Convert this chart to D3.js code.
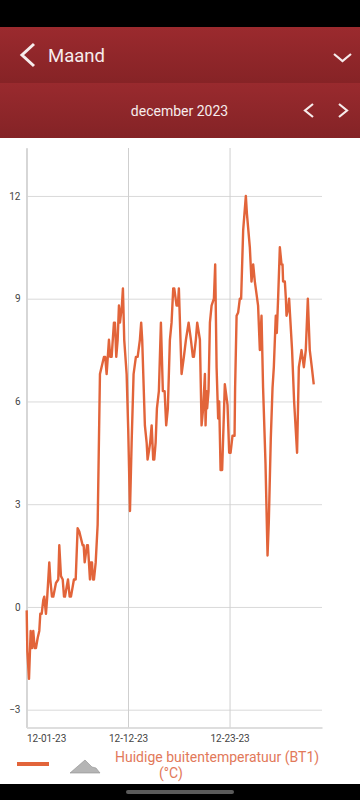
<!DOCTYPE html>
<html>
<head>
<meta charset="utf-8">
<script src="https://cdn.jsdelivr.net/npm/d3@7"></script>
<style>
  html, body { margin: 0; padding: 0; background: #fff; }
  svg { display: block; font-family: Roboto, sans-serif; }
</style>
</head>
<body>
<svg id="mainsvg" width="360" height="800"></svg>
<script>
// days since 12-01-23
const days = [
  0.02,0.09,0.27,0.45,0.59,0.73,0.88,1.02,1.21,1.38,1.49,1.64,1.81,1.92,2.10,2.24,2.46,2.57,2.75,2.89,
  3.18,3.43,3.54,3.72,3.91,4.05,4.15,4.48,4.66,4.80,5.12,5.31,5.52,5.70,6.06,6.17,6.28,6.53,6.63,6.85,
  6.96,7.07,7.17,7.28,7.47,7.68,7.93,8.36,8.50,8.65,8.90,9.04,9.19,9.44,9.55,9.69,9.84,9.98,10.09,10.30,
  10.41,10.55,10.81,10.98,11.17,11.35,11.56,11.81,12.00,12.24,12.38,12.49,12.78,12.97,13.07,13.25,13.35,13.51,13.68,13.79,
  13.94,14.08,14.29,14.51,14.72,14.91,15.08,15.26,15.48,15.66,15.84,15.95,16.20,16.34,16.45,16.74,16.99,17.21,17.50,17.75,
  17.96,18.07,18.28,18.43,18.72,18.90,19.07,19.26,19.33,19.44,19.50,19.65,19.80,19.98,20.23,20.37,20.52,20.69,20.80,20.95,
  21.12,21.41,21.70,21.88,22.03,22.24,22.46,22.52,22.68,22.85,23.03,23.17,23.39,23.68,23.79,24.11,24.29,24.47,24.65,25.00,
  25.19,25.37,25.54,25.80,26.02,26.16,26.37,26.56,26.70,26.91,27.02,27.16,27.35,27.53,27.64,27.70,27.89,28.00,28.07,28.24,
  28.35,28.67,28.89,29.21,29.40,29.69,29.94,30.15,30.37,30.58,30.80,31.01
];
const temps = [
  -0.1,-1.3,-2.1,-0.7,-1.2,-0.7,-1.2,-1.2,-0.9,-0.7,-0.2,-0.2,0.2,0.3,-0.2,0.3,1.3,0.8,0.3,0.3,
  0.7,0.8,1.8,0.9,0.8,0.3,0.3,0.8,0.3,0.3,0.8,0.8,2.3,2.2,1.8,1.8,1.3,1.8,1.8,0.8,
  1.3,1.3,0.8,0.8,1.3,2.4,6.8,7.3,7.3,6.8,7.8,7.3,7.3,8.3,8.3,7.3,7.8,8.8,8.3,8.8,
  9.3,7.8,6.8,5.2,2.8,4.8,6.8,7.3,7.3,7.8,8.3,7.8,5.3,4.8,4.3,4.6,4.8,5.3,4.3,4.3,
  4.8,5.8,6.3,8.3,6.3,6.3,5.3,5.8,7.8,8.3,9.3,9.3,8.8,8.8,9.3,6.8,7.3,7.8,8.3,7.8,
  7.3,7.3,7.8,8.3,7.8,5.3,5.8,6.8,5.3,6.3,5.8,6.3,8.3,8.8,9.0,10,7,5.5,6,4,
  4,6.5,5.9,4.5,4.5,5,5,6.4,8.5,8.6,9,9,11,12,11.5,10.5,9.5,10,9.5,8.8,
  7.5,8.5,6.4,4.2,1.5,2.5,4.9,6.4,7,8.5,8,9,10.5,10,10,9.5,9.5,9,8.5,8.7,
  9,7.5,6,4.5,7,7.5,7,7.5,9,7.5,7,6.5
];
const yTicks = [-3, 0, 3, 6, 9, 12];
const xTickDays = [0, 10.96, 21.92];
const xTickLabels = ["12-01-23", "12-12-23", "12-23-23"];

const svg = d3.select('#mainsvg');
const width = +svg.attr('width');
const height = +svg.attr('height');
const lineColor = "#e2643a";

// app chrome
const defs = svg.append('defs');
const grad = (id, a, b) => {
  const g = defs.append('linearGradient').attr('id', id).attr('x1', 0).attr('x2', 0).attr('y1', 0).attr('y2', 1);
  g.append('stop').attr('offset', 0).attr('stop-color', a);
  g.append('stop').attr('offset', 1).attr('stop-color', b);
};
grad('head1', '#9b2a2e', '#862326');
grad('head2', '#992a2e', '#842326');

svg.append('rect').attr('width', width).attr('height', 27).attr('fill', '#000');
svg.append('rect').attr('y', 27).attr('width', width).attr('height', 56).attr('fill', 'url(#head1)');
svg.append('rect').attr('y', 83).attr('width', width).attr('height', 55).attr('fill', 'url(#head2)');
svg.append('rect').attr('y', 784).attr('width', width).attr('height', 16).attr('fill', '#000');
svg.append('rect').attr('x', 126).attr('y', 790).attr('width', 108).attr('height', 4).attr('rx', 2).attr('fill', '#5a5a5a');

const chevron = (d, w) => svg.append('path').attr('d', d).attr('fill', 'none')
  .attr('stroke', '#f6ecec').attr('stroke-width', w);
chevron('M34,44L22,55L34,66', 3);
chevron('M334,54L342.500,61L351,54', 2.2);
chevron('M313,104L305,110.500L313,117', 2.2);
chevron('M339,104L347,110.500L339,117', 2.2);

svg.append('text').attr('x', 48).attr('y', 61.500).attr('fill', '#f6ecec')
  .attr('font-size', 18.500).text('Maand');
svg.append('text').attr('x', 179.500).attr('y', 116).attr('fill', '#f6ecec')
  .attr('text-anchor', 'middle').attr('font-size', 14).text('december 2023');

// chart
const x = d3.scaleLinear().domain([0, 31.9]).range([26.5, 322]);
const y = d3.scaleLinear().domain([-3.52, 13.4]).range([727.5, 148]);

const yAxis = d3.axisLeft(y).tickValues(yTicks).tickSize(-(x.range()[1] - x.range()[0]))
  .tickSizeOuter(0).tickPadding(6);
const xAxis = d3.axisBottom(x).tickValues(xTickDays).tickSize(0)
  .tickFormat((d, i) => xTickLabels[i]);

const gy = svg.append('g').attr('transform', `translate(${x.range()[0]},0)`).call(yAxis);
gy.select('.domain').attr('stroke', '#bdbdbd');
gy.selectAll('.tick line').attr('stroke', '#d9d9d9');
gy.selectAll('.tick text').attr('fill', '#444').attr('font-size', 10).attr('font-family', 'Roboto');

const gx = svg.append('g').attr('transform', `translate(0,${y.range()[0]})`).call(xAxis);
gx.select('.domain').attr('stroke', '#dedede').attr('stroke-width', 2);
gx.selectAll('.tick line').attr('stroke', '#cfcfcf').attr('y2', -(y.range()[0] - y.range()[1]));
gx.selectAll('.tick text').attr('fill', '#444').attr('font-size', 10).attr('font-family', 'Roboto')
  .attr('y', 7)
  .attr('text-anchor', (d, i) => i === 0 ? 'start' : 'middle');

const line = d3.line().x(d => x(d[0])).y(d => y(d[1]));
svg.append('path')
  .datum(days.map((d, i) => [d, temps[i]]))
  .attr('fill', 'none')
  .attr('stroke', lineColor)
  .attr('stroke-width', 2.4)
  .attr('stroke-linejoin', 'round')
  .attr('d', line);

// legend
svg.append('rect').attr('x', 17).attr('y', 762).attr('width', 32).attr('height', 4).attr('fill', lineColor);
svg.append('path').attr('d', 'M70,773L85,760L92,767L96,768L100,773Z')
  .attr('fill', '#b5b5b5').attr('stroke', '#8f8f8f').attr('stroke-width', 0.6);
svg.append('text').attr('x', 115).attr('y', 762).attr('fill', '#e2795a')
  .attr('font-size', 14).text('Huidige buitentemperatuur (BT1)');
svg.append('text').attr('x', 159).attr('y', 778).attr('fill', '#e2795a')
  .attr('font-size', 14).text('(°C)');
</script>
</body>
</html>
